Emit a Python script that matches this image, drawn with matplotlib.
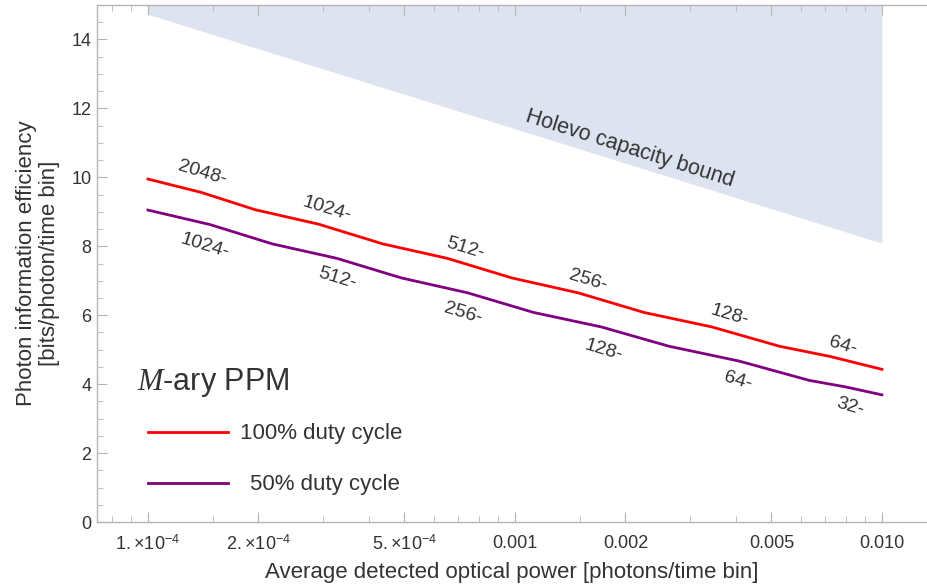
import matplotlib
matplotlib.use('Agg')
import matplotlib.pyplot as plt
from matplotlib.ticker import FixedLocator, NullFormatter

plt.rcParams['font.family'] = ['Liberation Sans', 'DejaVu Sans']
plt.rcParams['mathtext.fontset'] = 'custom'
plt.rcParams['mathtext.rm'] = 'Liberation Sans'
plt.rcParams['mathtext.it'] = 'Liberation Serif:italic'

# average detected power [photons/time bin] and photon information efficiency
red_n = [1e-4, 1.40e-4, 1.96e-4, 2.92e-4, 4.36e-4, 6.54e-4, 9.82e-4,
         1.486e-3, 2.248e-3, 3.44e-3, 5.257e-3, 7.25e-3, 1e-2]
red_pie = [9.95, 9.56, 9.06, 8.64, 8.07, 7.65, 7.08, 6.65, 6.08, 5.66, 5.10, 4.80, 4.43]

purple_n = [1e-4, 1.476e-4, 2.18e-4, 3.27e-4, 4.91e-4, 7.43e-4, 1.124e-3,
            1.719e-3, 2.628e-3, 4.08e-3, 6.335e-3, 7.96e-3, 1e-2]
purple_pie = [9.05, 8.63, 8.07, 7.65, 7.08, 6.65, 6.08, 5.66, 5.10, 4.67, 4.11, 3.92, 3.69]

holevo_n = [1e-4, 2e-4, 5e-4, 1e-3, 2e-3, 5e-3, 1e-2]
holevo_pie = [14.73, 13.73, 12.41, 11.41, 10.41, 9.09, 8.09]

# PPM order labels along the curves
red_labels = ['2048-', '1024-', '512-', '256-', '128-', '64-']
red_lab_x = [1.41e-4, 3.07e-4, 7.31e-4, 1.58e-3, 3.85e-3, 7.83e-3]
red_lab_y = [10.12, 9.08, 7.95, 7.00, 5.99, 5.12]

purple_labels = ['1024-', '512-', '256-', '128-', '64-', '32-']
purple_lab_x = [1.43e-4, 3.27e-4, 7.21e-4, 1.74e-3, 4.05e-3, 8.18e-3]
purple_lab_y = [8.01, 7.06, 6.05, 4.98, 4.11, 3.33]

xmajor = [1e-4, 2e-4, 5e-4, 1e-3, 2e-3, 5e-3, 1e-2]
xmajor_labels = [r'$1.\!\times\!10^{-4}$', r'$2.\!\times\!10^{-4}$', r'$5.\!\times\!10^{-4}$',
                 '0.001', '0.002', '0.005', '0.010']
xminor = [8e-5, 9e-5, 1.5e-4, 3e-4, 4e-4, 6e-4, 7e-4, 8e-4, 9e-4,
          1.5e-3, 3e-3, 4e-3, 6e-3, 7e-3, 8e-3, 9e-3]

text_col = '#333333'
axis_col = '#b4b4b4'
red = '#ff0000'
purple = '#800080'

fig = plt.figure(figsize=(9.27, 5.88), dpi=100)
ax = fig.add_axes([0.1046, 0.1122, 0.8954, 0.8793])

ax.fill_between(holevo_n, holevo_pie, 15, color='#dde3f0', lw=0)
ax.plot(red_n, red_pie, color=red, lw=2.0)
ax.plot(purple_n, purple_pie, color=purple, lw=2.0)

for s, x, y in zip(red_labels, red_lab_x, red_lab_y):
    ax.text(x, y, s, fontsize=14, color=text_col, rotation=-17,
            ha='center', va='center', rotation_mode='anchor')
for s, x, y in zip(purple_labels, purple_lab_x, purple_lab_y):
    ax.text(x, y, s, fontsize=14, color=text_col, rotation=-17,
            ha='center', va='center', rotation_mode='anchor')

ax.text(2.06e-3, 10.82, 'Holevo capacity bound', fontsize=15.5, color=text_col,
        rotation=-17.5, ha='center', va='center', rotation_mode='anchor')

# legend block
ax.text(0.048, 0.27, r'$\mathit{M}$-ary PPM', transform=ax.transAxes,
        fontsize=22, color=text_col, ha='left', va='center')
ax.plot([0.0614, 0.158], [0.174, 0.174], transform=ax.transAxes, color=red, lw=2.0)
ax.plot([0.0614, 0.158], [0.0754, 0.0754], transform=ax.transAxes, color=purple, lw=2.0)
ax.text(0.172, 0.172, '100% duty cycle', transform=ax.transAxes,
        fontsize=16, color=text_col, ha='left', va='center')
ax.text(0.184, 0.0734, '50% duty cycle', transform=ax.transAxes,
        fontsize=16, color=text_col, ha='left', va='center')

ax.set_xscale('log')
ax.set_xlim(7.26e-5, 1.327e-2)
ax.set_ylim(0, 15)

ax.xaxis.set_major_locator(FixedLocator(xmajor))
ax.set_xticklabels(xmajor_labels)
ax.xaxis.set_minor_locator(FixedLocator(xminor))
ax.xaxis.set_minor_formatter(NullFormatter())
ax.set_yticks(range(0, 15, 2))
ax.yaxis.set_minor_locator(FixedLocator([i * 0.5 for i in range(0, 30) if i % 4 != 0]))

ax.tick_params(which='both', direction='in', color=axis_col, labelcolor=text_col,
               labelsize=13, top=True, right=False)
ax.tick_params(which='major', length=7, width=0.8)
ax.tick_params(which='minor', length=4, width=0.6)
ax.tick_params(axis='x', pad=9)
ax.tick_params(axis='y', pad=4)

for side in ['left', 'bottom', 'top']:
    ax.spines[side].set_color(axis_col)
    ax.spines[side].set_linewidth(1.0)
ax.spines['right'].set_visible(False)

ax.set_xlabel('Average detected optical power [photons/time bin]', fontsize=16,
              color=text_col, labelpad=6)
ax.set_ylabel('Photon information efficiency\n[bits/photon/time bin]', fontsize=16,
              color=text_col, labelpad=8, linespacing=1.15)

fig.savefig('out.png', dpi=100)
